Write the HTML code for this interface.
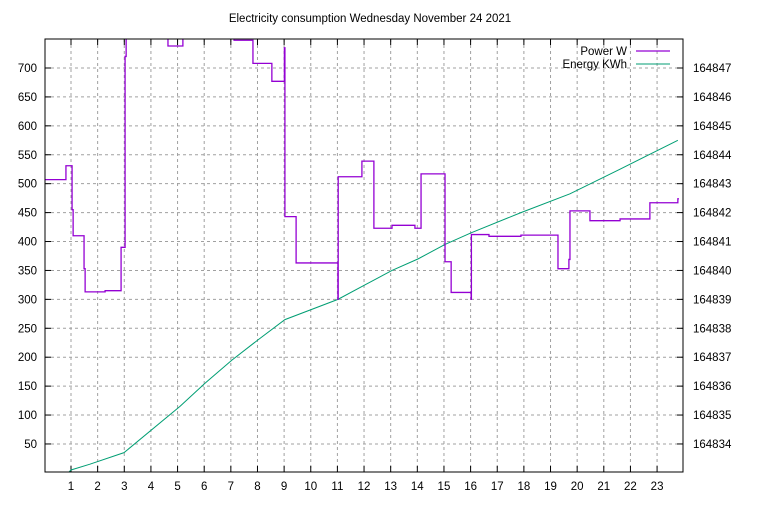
<!DOCTYPE html>
<html><head><meta charset="utf-8"><style>
body{margin:0;background:#fff}
svg text{font-family:"Liberation Sans",sans-serif;font-size:11.5px;fill:#000}
</style></head><body>
<svg id="chart" width="768" height="500" xmlns="http://www.w3.org/2000/svg">
<defs><clipPath id="pc"><rect x="45" y="39" width="638" height="433"/></clipPath></defs>
<text x="370" y="22" text-anchor="middle">Electricity consumption Wednesday November 24 2021</text>
<g id="grid"></g>
<g id="axes"></g>
<g clip-path="url(#pc)">
<path id="energy" fill="none" stroke="#009e73" stroke-width="1"/>
<path id="power" fill="none" stroke="#9400d3" stroke-width="1.3"/>
</g>
<rect x="45" y="39" width="638" height="433" fill="none" stroke="#000" stroke-width="1"/>
<g>
<text x="627" y="55" text-anchor="end">Power W</text>
<line x1="636" y1="51" x2="670" y2="51" stroke="#9400d3" stroke-width="1.3"/>
<text x="627" y="68" text-anchor="end">Energy KWh</text>
<line x1="636" y1="64" x2="670" y2="64" stroke="#009e73" stroke-width="1"/>
</g>
</svg>
<script>
const xTicks=[1,2,3,4,5,6,7,8,9,10,11,12,13,14,15,16,17,18,19,20,21,22,23];
const yTicks=[50,100,150,200,250,300,350,400,450,500,550,600,650,700];
const y2Ticks=[164834,164835,164836,164837,164838,164839,164840,164841,164842,164843,164844,164845,164846,164847];
const powerHours=[0.02,0.81,1.04,1.08,1.49,1.53,2.28,2.88,3.03,3.07,4.64,5.20,7.12,7.83,8.54,9.01,9.03,9.45,11.02,11.03,11.92,12.37,13.05,13.91,14.14,15.04,15.27,16.02,16.03,16.69,17.89,19.28,19.69,19.73,20.48,21.61,22.73,23.78,23.82];
const powerWatts=[507,531,455,410,353,313,315,390,720,800,738,800,748,708,677,735,443,363,300,512,539,423,428,423,517,365,312,300,412,409,411,353,369,453,436,439,467,474,474];
const energyHours=[0.89,1.00,1.71,2.99,5.09,6.03,7.04,8.02,9.03,11.02,12.03,13.05,14.03,15.04,16.02,17.89,19.73,21.61,23.78];
const energyKwh=[164833.0,164833.1,164833.3,164833.7,164835.3,164836.1,164836.9,164837.6,164838.3,164839.0,164839.5,164840.0,164840.4,164840.9,164841.3,164842.0,164842.65,164843.5,164844.5];
const X=h=>44.36+h*26.64;
const Y=w=>68+(700-w)*28.92/50;
const Y2=k=>68+(164847-k)*28.92;
const NS="http://www.w3.org/2000/svg";
const grid=document.getElementById('grid'),axes=document.getElementById('axes');
function mk(tag,attrs,parent){const e=document.createElementNS(NS,tag);for(const k in attrs)e.setAttribute(k,attrs[k]);parent.appendChild(e);return e;}
xTicks.forEach(t=>{const x=X(t);
 const g=mk('line',{x1:x,y1:39,x2:x,y2:472,stroke:'#a0a0a0','stroke-dasharray':'3,3'},grid);
 
 
 const a=mk('line',{x1:x,y1:472,x2:x,y2:466,stroke:'#000'},axes);
 
 
 const b=mk('line',{x1:x,y1:39,x2:x,y2:45,stroke:'#000'},axes);
 
 
 const l=mk('text',{x:x,y:490,'text-anchor':'middle'},axes);l.textContent=t;
 
 
});
yTicks.forEach(t=>{const y=Y(t);
 const g=mk('line',{x1:45,y1:y,x2:683,y2:y,stroke:'#a0a0a0','stroke-dasharray':'3,3'},grid);
 
 
 const a=mk('line',{x1:45,y1:y,x2:51,y2:y,stroke:'#000'},axes);
 
 
 const l=mk('text',{x:37,y:y+4,'text-anchor':'end'},axes);l.textContent=t;
 
 
});
y2Ticks.forEach(t=>{const y=Y2(t);
 const a=mk('line',{x1:683,y1:y,x2:677,y2:y,stroke:'#000'},axes);
 
 
 const l=mk('text',{x:693,y:y+4},axes);l.textContent=t;
 
 
});
let d='M'+X(powerHours[0])+' '+Y(powerWatts[0]);
for(let i=1;i<powerHours.length;i++){d+=' H'+X(powerHours[i])+' V'+Y(powerWatts[i]);}
document.getElementById('power').setAttribute('d',d);
document.getElementById('energy').setAttribute('d',energyHours.map((h,i)=>(i?'L':'M')+X(h)+' '+Y2(energyKwh[i])).join(' '));
</script>
</body></html>
